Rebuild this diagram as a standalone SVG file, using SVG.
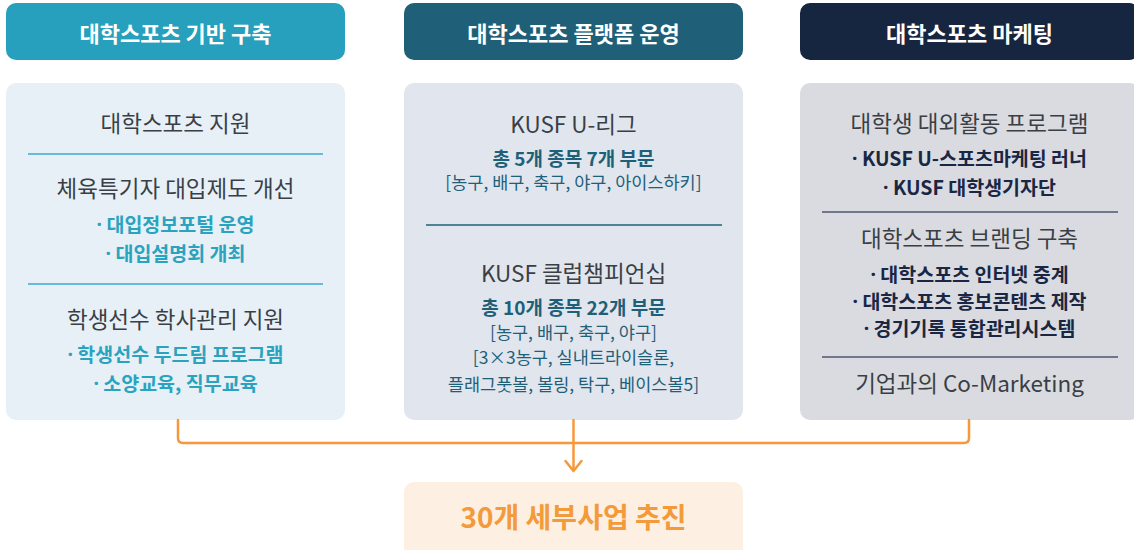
<svg xmlns="http://www.w3.org/2000/svg" width="1134" height="550" viewBox="0 0 1134 550">
<style>
text{font-family:"Noto Sans CJK KR","Noto Sans",sans-serif;text-anchor:middle;dominant-baseline:central}
.hd{font-size:22px;font-weight:700;fill:#fff}
.t{font-size:22.5px;fill:#3a3f46}
.b1{font-size:19.5px;font-weight:700;fill:#2AA3BF}
.b2{font-size:19px;font-weight:700;fill:#1F6079}
.r2{font-size:17.5px;fill:#1F6079}
.b3{font-size:19.5px;font-weight:700;fill:#1A2744}
.d{font-family:"Noto Sans",sans-serif}
.conn{fill:none;stroke:#F7993A;stroke-width:2.5;stroke-linecap:round;stroke-linejoin:round}
</style>
<rect width="1134" height="550" fill="#fff"/>
<g id="header1"><rect x="6" y="3" width="339" height="57" rx="10" fill="#26A0BC"/><text class="hd" x="175.5" y="32">대학스포츠 기반 구축</text></g>
<g id="header2"><rect x="404" y="3" width="339" height="57" rx="10" fill="#1F5F78"/><text class="hd" x="573.5" y="32">대학스포츠 플랫폼 운영</text></g>
<g id="header3"><rect x="800" y="3" width="339" height="57" rx="10" fill="#172640"/><text class="hd" x="969.5" y="32">대학스포츠 마케팅</text></g>
<g id="box1">
<rect x="6" y="83" width="339" height="337" rx="10" fill="#E7F0F6"/>
<text class="t" x="175.5" y="122">대학스포츠 지원</text>
<line x1="28" y1="154" x2="323" y2="154" stroke="#3BAACB" stroke-width="1.5"/>
<text class="t" x="175.5" y="187">체육특기자 대입제도 개선</text>
<text class="b1" x="175.5" y="223"><tspan class="d">·</tspan> 대입정보포털 운영</text>
<text class="b1" x="175.5" y="252"><tspan class="d">·</tspan> 대입설명회 개최</text>
<line x1="28" y1="284" x2="323" y2="284" stroke="#3BAACB" stroke-width="1.5"/>
<text class="t" x="175.5" y="318">학생선수 학사관리 지원</text>
<text class="b1" x="175.5" y="353"><tspan class="d">·</tspan> 학생선수 두드림 프로그램</text>
<text class="b1" x="175.5" y="382"><tspan class="d">·</tspan> 소양교육, 직무교육</text>
</g>
<g id="box2">
<rect x="404" y="83" width="339" height="337" rx="10" fill="#E1E6EE"/>
<text class="t" x="573.5" y="123">KUSF U-리그</text>
<text class="b2" x="573.5" y="157">총 5개 종목 7개 부문</text>
<text class="r2" x="573.5" y="181">[농구, 배구, 축구, 야구, 아이스하키]</text>
<line x1="426" y1="225" x2="722" y2="225" stroke="#1F6079" stroke-width="1.5"/>
<text class="t" x="573.5" y="272">KUSF 클럽챔피언십</text>
<text class="b2" x="573.5" y="306">총 10개 종목 22개 부문</text>
<text class="r2" x="573.5" y="331">[농구, 배구, 축구, 야구]</text>
<text class="r2" x="573.5" y="356">[3×3농구, 실내트라이슬론,</text>
<text class="r2" x="573.5" y="383">플래그풋볼, 볼링, 탁구, 베이스볼5]</text>
</g>
<g id="box3">
<rect x="800" y="83" width="339" height="337" rx="10" fill="#DADBE0"/>
<text class="t" x="969.5" y="122">대학생 대외활동 프로그램</text>
<text class="b3" x="969.5" y="157"><tspan class="d">·</tspan> KUSF U-스포츠마케팅 러너</text>
<text class="b3" x="969.5" y="186"><tspan class="d">·</tspan> KUSF 대학생기자단</text>
<line x1="822" y1="212" x2="1118" y2="212" stroke="#4A5670" stroke-width="1.5"/>
<text class="t" x="969.5" y="237">대학스포츠 브랜딩 구축</text>
<text class="b3" x="969.5" y="273"><tspan class="d">·</tspan> 대학스포츠 인터넷 중계</text>
<text class="b3" x="969.5" y="300"><tspan class="d">·</tspan> 대학스포츠 홍보콘텐츠 제작</text>
<text class="b3" x="969.5" y="327"><tspan class="d">·</tspan> 경기기록 통합관리시스템</text>
<line x1="822" y1="357" x2="1118" y2="357" stroke="#4A5670" stroke-width="1.5"/>
<text class="t" x="969.5" y="382">기업과의 Co-Marketing</text>
</g>
<g id="result">
<rect x="404" y="482" width="339" height="80" rx="10" fill="#FDF0E2"/>
<text x="573.5" y="516" style="font-size:28px;font-weight:700;fill:#F39A3B">30개 세부사업 추진</text>
</g>
<g id="connectors">
<path class="conn" d="M178,420 V438 Q178,443 183,443 H964 Q969,443 969,438 V420"/>
<path class="conn" d="M573.5,420 V470"/>
<path class="conn" d="M565.5,461 L573.5,471 L581.5,461"/>
</g>
</svg>
